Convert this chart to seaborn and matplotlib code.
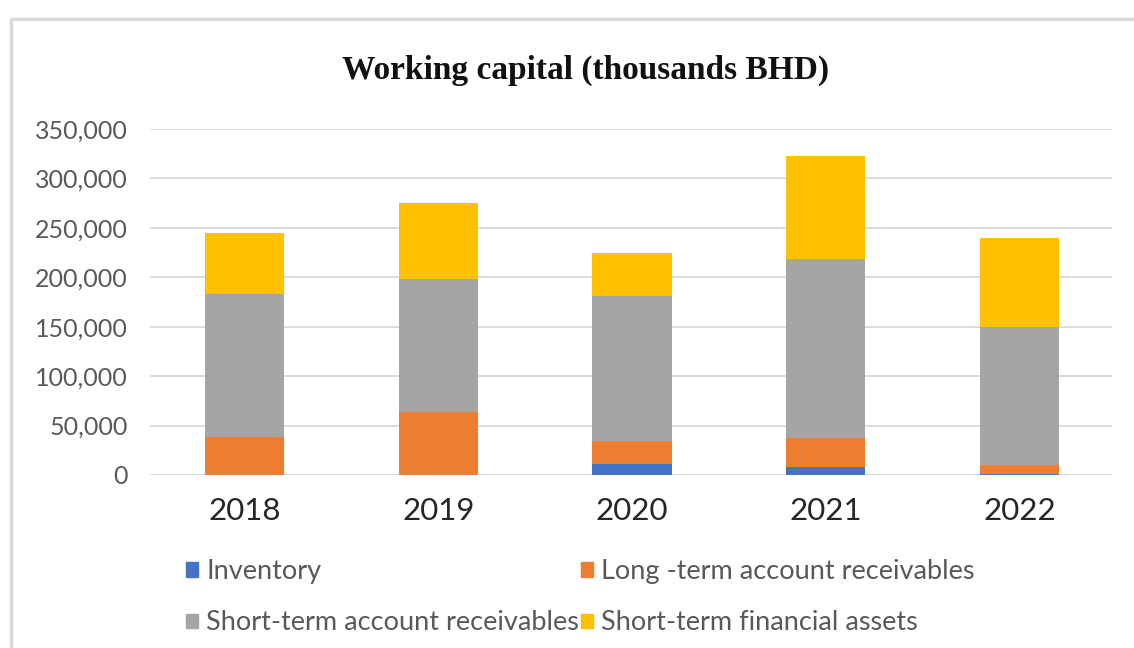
import numpy as np
import pandas as pd
import matplotlib.pyplot as plt
import matplotlib.patches as mpatches
from matplotlib.lines import Line2D
from matplotlib.ticker import FuncFormatter
import seaborn as sns

# Values (thousands BHD)
years = ['2018', '2019', '2020', '2021', '2022']
inventory = [0, 0, 11000, 8500, 1500]
long_term_ar = [38000, 64000, 23000, 29000, 8500]
short_term_ar = [144600, 134500, 147500, 180500, 139800]
short_term_fa = [62400, 77000, 43500, 105000, 90200]

series = ['Inventory', 'Long -term account receivables',
          'Short-term account receivables', 'Short-term financial assets']
colors = ['#4472C4', '#ED7D31', '#A5A5A5', '#FFC000']

df = pd.DataFrame({'year': years, series[0]: inventory, series[1]: long_term_ar,
                   series[2]: short_term_ar, series[3]: short_term_fa})

sns.set_theme(style='white')
plt.rcParams['font.family'] = ['Lato', 'DejaVu Sans']

fig = plt.figure(figsize=(11.34, 6.48), dpi=100)
ax = fig.add_axes([0.132, 0.267, 0.849, 0.534])

# Stacked bars: draw cumulative totals from the top series down
cum = df[series].cumsum(axis=1)
for name, col in reversed(list(zip(series, colors))):
    sns.barplot(x=df['year'], y=cum[name], color=col, width=0.41,
                saturation=1, ax=ax, linewidth=0, zorder=3)

ax.set_ylim(0, 350000)
ax.set_yticks(np.arange(0, 350001, 50000))
ax.yaxis.set_major_formatter(FuncFormatter(lambda v, p: f'{int(v):,}'))
ax.grid(axis='y', color='#D9D9D9', linewidth=1.3, zorder=0)
ax.set_axisbelow(True)
for s in ax.spines.values():
    s.set_visible(False)
ax.set_xlabel('')
ax.set_ylabel('')
ax.tick_params(axis='y', labelsize=18, labelcolor='#595959', length=0, pad=16)
ax.tick_params(axis='x', labelsize=22.5, labelcolor='#262626', length=0, pad=16)
ax.set_xlim(-0.49, 4.48)

fig.text(0.516, 0.892, 'Working capital (thousands BHD)', ha='center', va='center',
         fontsize=24, fontweight='bold', family='Liberation Serif', color='#111111')

handles = [mpatches.Patch(color=c, label=n) for n, c in zip(series, colors)]
order = [0, 2, 1, 3]
fig.legend([handles[i] for i in order], [series[i] for i in order],
           ncol=2, loc='upper left', bbox_to_anchor=(0.164, 0.137),
           frameon=False, fontsize=19.5, handlelength=0.45, handleheight=0.45,
           handletextpad=0.3, columnspacing=0.05, labelspacing=0.97,
           labelcolor='#595959', borderaxespad=0, borderpad=0)

# light frame from the screenshot edge
fig.add_artist(Line2D([0.0097, 1.0], [1 - 19 / 648, 1 - 19 / 648], color='#DADADA', lw=2.5))
fig.add_artist(Line2D([0.0097, 0.0097], [0, 1 - 19 / 648], color='#DADADA', lw=2.5))

fig.savefig('out.png', dpi=100)
